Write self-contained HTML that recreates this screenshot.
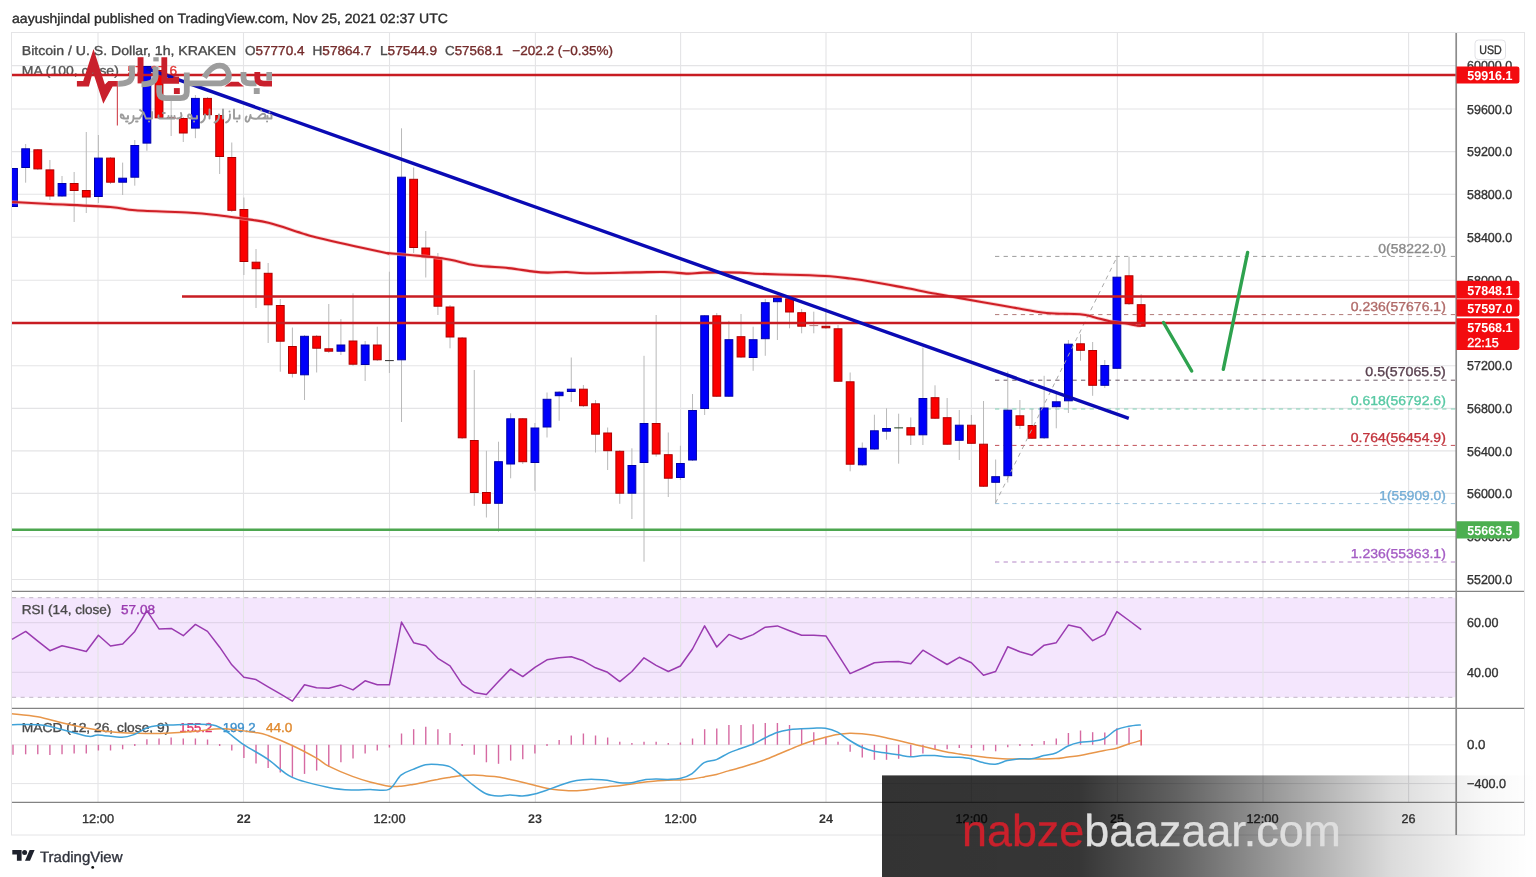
<!DOCTYPE html>
<html><head><meta charset="utf-8"><title>BTCUSD chart</title>
<style>
html,body{margin:0;padding:0;background:#fff;}
body{width:1536px;height:877px;overflow:hidden;font-family:"Liberation Sans",sans-serif;}
svg{display:block;position:absolute;left:0;top:0;filter:brightness(1);}
text{font-family:"Liberation Sans",sans-serif;paint-order:stroke;text-rendering:geometricPrecision;stroke-linejoin:round;}
</style></head><body>
<svg width="1536" height="877" viewBox="0 0 1536 877" shape-rendering="auto">
<defs>
<clipPath id="mainclip"><rect x="12" y="33" width="1444" height="558"/></clipPath>
<linearGradient id="ban" x1="0" y1="0" x2="1" y2="0">
<stop offset="0" stop-color="#000" stop-opacity="0.8"/>
<stop offset="0.30" stop-color="#000" stop-opacity="0.79"/>
<stop offset="0.45" stop-color="#000" stop-opacity="0.62"/>
<stop offset="0.60" stop-color="#000" stop-opacity="0.40"/>
<stop offset="0.78" stop-color="#000" stop-opacity="0.14"/>
<stop offset="0.92" stop-color="#000" stop-opacity="0.03"/>
<stop offset="1" stop-color="#000" stop-opacity="0"/>
</linearGradient>
</defs>
<rect x="0" y="0" width="1536" height="877" fill="#fff"/>

<text x="12" y="22.5" font-size="13.4" fill="#2b2b2b" textLength="436" lengthAdjust="spacingAndGlyphs" stroke="#2b2b2b" stroke-width="0.35">aayushjindal published on TradingView.com, Nov 25, 2021 02:37 UTC</text>
<rect x="11.5" y="32.5" width="1513" height="802.5" fill="#fff" stroke="#e4e4e6" stroke-width="1"/>
<rect x="12" y="597.7" width="1443.5" height="99.6" fill="#f4e6fd"/>
<line x1="12" y1="65.6" x2="1456" y2="65.6" stroke="#e4e4e6" stroke-width="1.1"/>
<line x1="12" y1="109.0" x2="1456" y2="109.0" stroke="#e4e4e6" stroke-width="1.1"/>
<line x1="12" y1="151.6" x2="1456" y2="151.6" stroke="#e4e4e6" stroke-width="1.1"/>
<line x1="12" y1="194.2" x2="1456" y2="194.2" stroke="#e4e4e6" stroke-width="1.1"/>
<line x1="12" y1="237.2" x2="1456" y2="237.2" stroke="#e4e4e6" stroke-width="1.1"/>
<line x1="12" y1="280.2" x2="1456" y2="280.2" stroke="#e4e4e6" stroke-width="1.1"/>
<line x1="12" y1="323.0" x2="1456" y2="323.0" stroke="#e4e4e6" stroke-width="1.1"/>
<line x1="12" y1="365.8" x2="1456" y2="365.8" stroke="#e4e4e6" stroke-width="1.1"/>
<line x1="12" y1="408.4" x2="1456" y2="408.4" stroke="#e4e4e6" stroke-width="1.1"/>
<line x1="12" y1="450.9" x2="1456" y2="450.9" stroke="#e4e4e6" stroke-width="1.1"/>
<line x1="12" y1="493.4" x2="1456" y2="493.4" stroke="#e4e4e6" stroke-width="1.1"/>
<line x1="12" y1="536.6" x2="1456" y2="536.6" stroke="#e4e4e6" stroke-width="1.1"/>
<line x1="12" y1="579.5" x2="1456" y2="579.5" stroke="#e4e4e6" stroke-width="1.1"/>
<line x1="12" y1="622.7" x2="1456" y2="622.7" stroke="#ddd0e6" stroke-width="1"/>
<line x1="12" y1="672.3" x2="1456" y2="672.3" stroke="#ddd0e6" stroke-width="1"/>
<line x1="12" y1="744.8" x2="1456" y2="744.8" stroke="#e4e4e6" stroke-width="1"/>
<line x1="12" y1="783.6" x2="1456" y2="783.6" stroke="#e4e4e6" stroke-width="1"/>
<line x1="98.0" y1="33" x2="98.0" y2="802" stroke="#e4e4e6" stroke-width="1.1"/>
<line x1="243.5" y1="33" x2="243.5" y2="802" stroke="#e4e4e6" stroke-width="1.1"/>
<line x1="389.5" y1="33" x2="389.5" y2="802" stroke="#e4e4e6" stroke-width="1.1"/>
<line x1="535.4" y1="33" x2="535.4" y2="802" stroke="#e4e4e6" stroke-width="1.1"/>
<line x1="680.6" y1="33" x2="680.6" y2="802" stroke="#e4e4e6" stroke-width="1.1"/>
<line x1="826.0" y1="33" x2="826.0" y2="802" stroke="#e4e4e6" stroke-width="1.1"/>
<line x1="971.4" y1="33" x2="971.4" y2="802" stroke="#e4e4e6" stroke-width="1.1"/>
<line x1="1117.4" y1="33" x2="1117.4" y2="802" stroke="#e4e4e6" stroke-width="1.1"/>
<line x1="1263.0" y1="33" x2="1263.0" y2="802" stroke="#e4e4e6" stroke-width="1.1"/>
<line x1="1408.6" y1="33" x2="1408.6" y2="802" stroke="#e4e4e6" stroke-width="1.1"/>
<line x1="12" y1="597.7" x2="1456" y2="597.7" stroke="#c0b6c6" stroke-width="1" stroke-dasharray="4.1 4.5"/>
<line x1="12" y1="697.3" x2="1456" y2="697.3" stroke="#c0b6c6" stroke-width="1" stroke-dasharray="4.1 4.5"/>
<text x="21.8" y="55" font-size="13" fill="#4a4a4a" textLength="214.5" lengthAdjust="spacingAndGlyphs" stroke="#4a4a4a" stroke-width="0.35">Bitcoin / U. S. Dollar, 1h, KRAKEN</text>
<text x="245" y="55" font-size="13" textLength="59.5" lengthAdjust="spacingAndGlyphs"><tspan fill="#4a4a4a" stroke="#4a4a4a" stroke-width="0.35">O</tspan><tspan fill="#742b2b" stroke="#742b2b" stroke-width="0.35">57770.4</tspan></text>
<text x="312.5" y="55" font-size="13" textLength="59" lengthAdjust="spacingAndGlyphs"><tspan fill="#4a4a4a" stroke="#4a4a4a" stroke-width="0.35">H</tspan><tspan fill="#742b2b" stroke="#742b2b" stroke-width="0.35">57864.7</tspan></text>
<text x="380" y="55" font-size="13" textLength="57" lengthAdjust="spacingAndGlyphs"><tspan fill="#4a4a4a" stroke="#4a4a4a" stroke-width="0.35">L</tspan><tspan fill="#742b2b" stroke="#742b2b" stroke-width="0.35">57544.9</tspan></text>
<text x="445" y="55" font-size="13" textLength="58" lengthAdjust="spacingAndGlyphs"><tspan fill="#4a4a4a" stroke="#4a4a4a" stroke-width="0.35">C</tspan><tspan fill="#742b2b" stroke="#742b2b" stroke-width="0.35">57568.1</tspan></text>
<text x="512.3" y="55" font-size="13" fill="#742b2b" textLength="100.7" lengthAdjust="spacingAndGlyphs" stroke="#742b2b" stroke-width="0.35">−202.2 (−0.35%)</text>
<text x="21.8" y="75.2" font-size="13" fill="#555" textLength="97" lengthAdjust="spacingAndGlyphs" stroke="#555" stroke-width="0.35">MA (100, close)</text>
<text x="127.5" y="75.2" font-size="13" fill="#e03030" textLength="49.5" lengthAdjust="spacingAndGlyphs" stroke="#e03030" stroke-width="0.35">57597.6</text>
<text x="21.8" y="614.4" font-size="13" fill="#4a4a4a" textLength="89.5" lengthAdjust="spacingAndGlyphs" stroke="#4a4a4a" stroke-width="0.35">RSI (14, close)</text>
<text x="121" y="614.4" font-size="13" fill="#9a3bb0" textLength="34" lengthAdjust="spacingAndGlyphs" stroke="#9a3bb0" stroke-width="0.35">57.08</text>
<text x="21.8" y="731.8" font-size="13" fill="#4a4a4a" textLength="147.5" lengthAdjust="spacingAndGlyphs" stroke="#4a4a4a" stroke-width="0.35">MACD (12, 26, close, 9)</text>
<text x="179.3" y="731.8" font-size="13" fill="#e0356c" textLength="33" lengthAdjust="spacingAndGlyphs" stroke="#e0356c" stroke-width="0.35">155.2</text>
<text x="222.7" y="731.8" font-size="13" fill="#3a8fcc" textLength="33" lengthAdjust="spacingAndGlyphs" stroke="#3a8fcc" stroke-width="0.35">199.2</text>
<text x="265.9" y="731.8" font-size="13" fill="#e08a30" textLength="26.5" lengthAdjust="spacingAndGlyphs" stroke="#e08a30" stroke-width="0.35">44.0</text>
<g clip-path="url(#mainclip)">
<line x1="995" y1="256.4" x2="1456" y2="256.4" stroke="#9c9c9c" stroke-width="1" stroke-dasharray="4.3 4.3"/>
<line x1="995" y1="314.6" x2="1456" y2="314.6" stroke="#b07a78" stroke-width="1" stroke-dasharray="4.3 4.3"/>
<line x1="995" y1="380.2" x2="1456" y2="380.2" stroke="#6b5864" stroke-width="1" stroke-dasharray="4.3 4.3"/>
<line x1="995" y1="409.0" x2="1456" y2="409.0" stroke="#7fd0b4" stroke-width="1" stroke-dasharray="4.3 4.3"/>
<line x1="995" y1="445.4" x2="1456" y2="445.4" stroke="#c25058" stroke-width="1" stroke-dasharray="4.3 4.3"/>
<line x1="995" y1="503.6" x2="1456" y2="503.6" stroke="#9cc3dc" stroke-width="1" stroke-dasharray="4.3 4.3"/>
<line x1="995" y1="562.0" x2="1456" y2="562.0" stroke="#b487c6" stroke-width="1" stroke-dasharray="4.3 4.3"/>
<line x1="13.53" y1="168" x2="13.53" y2="207" stroke="#b9b9b9" stroke-width="1"/>
<line x1="25.65" y1="144" x2="25.65" y2="182.7" stroke="#b9b9b9" stroke-width="1"/>
<line x1="37.78" y1="149" x2="37.78" y2="170" stroke="#b9b9b9" stroke-width="1"/>
<line x1="49.90" y1="160" x2="49.90" y2="200" stroke="#b9b9b9" stroke-width="1"/>
<line x1="62.03" y1="176" x2="62.03" y2="197" stroke="#b9b9b9" stroke-width="1"/>
<line x1="74.15" y1="172" x2="74.15" y2="222" stroke="#b9b9b9" stroke-width="1"/>
<line x1="86.28" y1="132" x2="86.28" y2="213" stroke="#b9b9b9" stroke-width="1"/>
<line x1="98.40" y1="135" x2="98.40" y2="203" stroke="#b9b9b9" stroke-width="1"/>
<line x1="110.53" y1="157" x2="110.53" y2="184" stroke="#b9b9b9" stroke-width="1"/>
<line x1="122.65" y1="162.6" x2="122.65" y2="195" stroke="#b9b9b9" stroke-width="1"/>
<line x1="134.78" y1="140" x2="134.78" y2="185.7" stroke="#b9b9b9" stroke-width="1"/>
<line x1="146.90" y1="66" x2="146.90" y2="150.8" stroke="#b9b9b9" stroke-width="1"/>
<line x1="159.03" y1="68" x2="159.03" y2="119" stroke="#b9b9b9" stroke-width="1"/>
<line x1="171.15" y1="100" x2="171.15" y2="136" stroke="#b9b9b9" stroke-width="1"/>
<line x1="183.28" y1="117" x2="183.28" y2="142" stroke="#b9b9b9" stroke-width="1"/>
<line x1="195.40" y1="95" x2="195.40" y2="138.2" stroke="#b9b9b9" stroke-width="1"/>
<line x1="207.53" y1="97" x2="207.53" y2="116" stroke="#b9b9b9" stroke-width="1"/>
<line x1="219.65" y1="115" x2="219.65" y2="174" stroke="#b9b9b9" stroke-width="1"/>
<line x1="231.78" y1="142.5" x2="231.78" y2="212" stroke="#b9b9b9" stroke-width="1"/>
<line x1="243.90" y1="197.5" x2="243.90" y2="275" stroke="#b9b9b9" stroke-width="1"/>
<line x1="256.02" y1="249" x2="256.02" y2="308" stroke="#b9b9b9" stroke-width="1"/>
<line x1="268.15" y1="263" x2="268.15" y2="343" stroke="#b9b9b9" stroke-width="1"/>
<line x1="280.27" y1="299" x2="280.27" y2="371.7" stroke="#b9b9b9" stroke-width="1"/>
<line x1="292.40" y1="327.5" x2="292.40" y2="377.5" stroke="#b9b9b9" stroke-width="1"/>
<line x1="304.52" y1="335" x2="304.52" y2="400" stroke="#b9b9b9" stroke-width="1"/>
<line x1="316.65" y1="335" x2="316.65" y2="372.5" stroke="#b9b9b9" stroke-width="1"/>
<line x1="328.77" y1="304" x2="328.77" y2="353" stroke="#b9b9b9" stroke-width="1"/>
<line x1="340.90" y1="319" x2="340.90" y2="355" stroke="#b9b9b9" stroke-width="1"/>
<line x1="353.02" y1="293.3" x2="353.02" y2="366" stroke="#b9b9b9" stroke-width="1"/>
<line x1="365.15" y1="341" x2="365.15" y2="381" stroke="#b9b9b9" stroke-width="1"/>
<line x1="377.27" y1="326.7" x2="377.27" y2="361" stroke="#b9b9b9" stroke-width="1"/>
<line x1="389.40" y1="271.7" x2="389.40" y2="373" stroke="#b9b9b9" stroke-width="1"/>
<line x1="401.52" y1="128.3" x2="401.52" y2="422" stroke="#b9b9b9" stroke-width="1"/>
<line x1="413.65" y1="167.5" x2="413.65" y2="253" stroke="#b9b9b9" stroke-width="1"/>
<line x1="425.77" y1="231" x2="425.77" y2="277.5" stroke="#b9b9b9" stroke-width="1"/>
<line x1="437.90" y1="253" x2="437.90" y2="315" stroke="#b9b9b9" stroke-width="1"/>
<line x1="450.02" y1="305" x2="450.02" y2="348.3" stroke="#b9b9b9" stroke-width="1"/>
<line x1="462.15" y1="337" x2="462.15" y2="439" stroke="#b9b9b9" stroke-width="1"/>
<line x1="474.27" y1="370" x2="474.27" y2="505.8" stroke="#b9b9b9" stroke-width="1"/>
<line x1="486.40" y1="450.8" x2="486.40" y2="517.5" stroke="#b9b9b9" stroke-width="1"/>
<line x1="498.52" y1="441.7" x2="498.52" y2="531.7" stroke="#b9b9b9" stroke-width="1"/>
<line x1="510.65" y1="413.3" x2="510.65" y2="478.3" stroke="#b9b9b9" stroke-width="1"/>
<line x1="522.77" y1="418" x2="522.77" y2="464" stroke="#b9b9b9" stroke-width="1"/>
<line x1="534.90" y1="423" x2="534.90" y2="490.8" stroke="#b9b9b9" stroke-width="1"/>
<line x1="547.02" y1="392.5" x2="547.02" y2="437.5" stroke="#b9b9b9" stroke-width="1"/>
<line x1="559.15" y1="391" x2="559.15" y2="420.8" stroke="#b9b9b9" stroke-width="1"/>
<line x1="571.27" y1="357.5" x2="571.27" y2="402" stroke="#b9b9b9" stroke-width="1"/>
<line x1="583.40" y1="385" x2="583.40" y2="407" stroke="#b9b9b9" stroke-width="1"/>
<line x1="595.52" y1="400" x2="595.52" y2="452.5" stroke="#b9b9b9" stroke-width="1"/>
<line x1="607.65" y1="427.5" x2="607.65" y2="470" stroke="#b9b9b9" stroke-width="1"/>
<line x1="619.77" y1="450" x2="619.77" y2="503.8" stroke="#b9b9b9" stroke-width="1"/>
<line x1="631.90" y1="448.3" x2="631.90" y2="519" stroke="#b9b9b9" stroke-width="1"/>
<line x1="644.02" y1="355.8" x2="644.02" y2="561.7" stroke="#b9b9b9" stroke-width="1"/>
<line x1="656.15" y1="315" x2="656.15" y2="456.7" stroke="#b9b9b9" stroke-width="1"/>
<line x1="668.27" y1="432.5" x2="668.27" y2="497" stroke="#b9b9b9" stroke-width="1"/>
<line x1="680.40" y1="445.8" x2="680.40" y2="480" stroke="#b9b9b9" stroke-width="1"/>
<line x1="692.52" y1="394" x2="692.52" y2="461" stroke="#b9b9b9" stroke-width="1"/>
<line x1="704.65" y1="315" x2="704.65" y2="415" stroke="#b9b9b9" stroke-width="1"/>
<line x1="716.77" y1="313" x2="716.77" y2="397" stroke="#b9b9b9" stroke-width="1"/>
<line x1="728.90" y1="320.8" x2="728.90" y2="397" stroke="#b9b9b9" stroke-width="1"/>
<line x1="741.02" y1="314" x2="741.02" y2="358" stroke="#b9b9b9" stroke-width="1"/>
<line x1="753.15" y1="326.7" x2="753.15" y2="370.8" stroke="#b9b9b9" stroke-width="1"/>
<line x1="765.27" y1="299" x2="765.27" y2="355.8" stroke="#b9b9b9" stroke-width="1"/>
<line x1="777.40" y1="297" x2="777.40" y2="340" stroke="#b9b9b9" stroke-width="1"/>
<line x1="789.52" y1="298" x2="789.52" y2="328.3" stroke="#b9b9b9" stroke-width="1"/>
<line x1="801.65" y1="309" x2="801.65" y2="333.3" stroke="#b9b9b9" stroke-width="1"/>
<line x1="813.77" y1="311.7" x2="813.77" y2="333.3" stroke="#b9b9b9" stroke-width="1"/>
<line x1="825.90" y1="308" x2="825.90" y2="329" stroke="#b9b9b9" stroke-width="1"/>
<line x1="838.02" y1="325" x2="838.02" y2="382" stroke="#b9b9b9" stroke-width="1"/>
<line x1="850.15" y1="372.5" x2="850.15" y2="471.3" stroke="#b9b9b9" stroke-width="1"/>
<line x1="862.27" y1="442.5" x2="862.27" y2="466" stroke="#b9b9b9" stroke-width="1"/>
<line x1="874.40" y1="414.7" x2="874.40" y2="450" stroke="#b9b9b9" stroke-width="1"/>
<line x1="886.52" y1="408.3" x2="886.52" y2="439.7" stroke="#b9b9b9" stroke-width="1"/>
<line x1="898.65" y1="413.7" x2="898.65" y2="463.7" stroke="#b9b9b9" stroke-width="1"/>
<line x1="910.77" y1="417.5" x2="910.77" y2="445" stroke="#b9b9b9" stroke-width="1"/>
<line x1="922.90" y1="347.5" x2="922.90" y2="445" stroke="#b9b9b9" stroke-width="1"/>
<line x1="935.02" y1="385.3" x2="935.02" y2="419" stroke="#b9b9b9" stroke-width="1"/>
<line x1="947.15" y1="398" x2="947.15" y2="445" stroke="#b9b9b9" stroke-width="1"/>
<line x1="959.27" y1="410" x2="959.27" y2="460" stroke="#b9b9b9" stroke-width="1"/>
<line x1="971.40" y1="415" x2="971.40" y2="444" stroke="#b9b9b9" stroke-width="1"/>
<line x1="983.52" y1="401" x2="983.52" y2="487" stroke="#b9b9b9" stroke-width="1"/>
<line x1="995.65" y1="459.5" x2="995.65" y2="503.3" stroke="#b9b9b9" stroke-width="1"/>
<line x1="1007.77" y1="371.5" x2="1007.77" y2="482.5" stroke="#b9b9b9" stroke-width="1"/>
<line x1="1019.90" y1="400" x2="1019.90" y2="429" stroke="#b9b9b9" stroke-width="1"/>
<line x1="1032.03" y1="409" x2="1032.03" y2="439" stroke="#b9b9b9" stroke-width="1"/>
<line x1="1044.15" y1="375.8" x2="1044.15" y2="439" stroke="#b9b9b9" stroke-width="1"/>
<line x1="1056.28" y1="394" x2="1056.28" y2="428.3" stroke="#b9b9b9" stroke-width="1"/>
<line x1="1068.40" y1="340" x2="1068.40" y2="413" stroke="#b9b9b9" stroke-width="1"/>
<line x1="1080.53" y1="334.2" x2="1080.53" y2="360.8" stroke="#b9b9b9" stroke-width="1"/>
<line x1="1092.65" y1="342" x2="1092.65" y2="395.8" stroke="#b9b9b9" stroke-width="1"/>
<line x1="1104.78" y1="360" x2="1104.78" y2="388" stroke="#b9b9b9" stroke-width="1"/>
<line x1="1116.90" y1="256.7" x2="1116.90" y2="369" stroke="#b9b9b9" stroke-width="1"/>
<line x1="1129.03" y1="256.7" x2="1129.03" y2="305" stroke="#b9b9b9" stroke-width="1"/>
<line x1="1141.15" y1="294.2" x2="1141.15" y2="327" stroke="#b9b9b9" stroke-width="1"/>
<rect x="9.63" y="168.5" width="7.8" height="38.0" fill="#0000fa" stroke="#0000a8" stroke-width="1"/>
<rect x="21.75" y="148.8" width="7.8" height="18.7" fill="#0000fa" stroke="#0000a8" stroke-width="1"/>
<rect x="33.88" y="149.8" width="7.8" height="19.1" fill="#fb0000" stroke="#ad0000" stroke-width="1"/>
<rect x="46.00" y="169.9" width="7.8" height="26.1" fill="#fb0000" stroke="#ad0000" stroke-width="1"/>
<rect x="58.13" y="183.5" width="7.8" height="12.5" fill="#0000fa" stroke="#0000a8" stroke-width="1"/>
<rect x="70.25" y="183.5" width="7.8" height="7.0" fill="#fb0000" stroke="#ad0000" stroke-width="1"/>
<rect x="82.38" y="190.5" width="7.8" height="6.5" fill="#fb0000" stroke="#ad0000" stroke-width="1"/>
<rect x="94.50" y="158.1" width="7.8" height="38.4" fill="#0000fa" stroke="#0000a8" stroke-width="1"/>
<rect x="106.62" y="158.1" width="7.8" height="24.1" fill="#fb0000" stroke="#ad0000" stroke-width="1"/>
<rect x="118.75" y="178.2" width="7.8" height="4.0" fill="#0000fa" stroke="#0000a8" stroke-width="1"/>
<rect x="130.88" y="145.5" width="7.8" height="31.7" fill="#0000fa" stroke="#0000a8" stroke-width="1"/>
<rect x="143.00" y="66.5" width="7.8" height="76.6" fill="#0000fa" stroke="#0000a8" stroke-width="1"/>
<rect x="155.12" y="70.5" width="7.8" height="47.3" fill="#fb0000" stroke="#ad0000" stroke-width="1"/>
<rect x="167.25" y="117.8" width="7.8" height="0.5" fill="#fb0000" stroke="#ad0000" stroke-width="1"/>
<rect x="179.38" y="118.5" width="7.8" height="14.5" fill="#fb0000" stroke="#ad0000" stroke-width="1"/>
<rect x="191.50" y="98.4" width="7.8" height="29.7" fill="#0000fa" stroke="#0000a8" stroke-width="1"/>
<rect x="203.62" y="98.4" width="7.8" height="16.3" fill="#fb0000" stroke="#ad0000" stroke-width="1"/>
<rect x="215.75" y="115.5" width="7.8" height="41.0" fill="#fb0000" stroke="#ad0000" stroke-width="1"/>
<rect x="227.88" y="157.5" width="7.8" height="52.8" fill="#fb0000" stroke="#ad0000" stroke-width="1"/>
<rect x="240.00" y="209.5" width="7.8" height="52.0" fill="#fb0000" stroke="#ad0000" stroke-width="1"/>
<rect x="252.12" y="262.2" width="7.8" height="6.5" fill="#fb0000" stroke="#ad0000" stroke-width="1"/>
<rect x="264.25" y="273.3" width="7.8" height="31.5" fill="#fb0000" stroke="#ad0000" stroke-width="1"/>
<rect x="276.38" y="305.5" width="7.8" height="35.7" fill="#fb0000" stroke="#ad0000" stroke-width="1"/>
<rect x="288.50" y="346.5" width="7.8" height="26.8" fill="#fb0000" stroke="#ad0000" stroke-width="1"/>
<rect x="300.62" y="336.3" width="7.8" height="38.5" fill="#0000fa" stroke="#0000a8" stroke-width="1"/>
<rect x="312.75" y="336.3" width="7.8" height="11.9" fill="#fb0000" stroke="#ad0000" stroke-width="1"/>
<rect x="324.88" y="348.8" width="7.8" height="2.4" fill="#fb0000" stroke="#ad0000" stroke-width="1"/>
<rect x="337.00" y="345.0" width="7.8" height="6.2" fill="#0000fa" stroke="#0000a8" stroke-width="1"/>
<rect x="349.12" y="341.0" width="7.8" height="23.2" fill="#fb0000" stroke="#ad0000" stroke-width="1"/>
<rect x="361.25" y="345.0" width="7.8" height="19.5" fill="#0000fa" stroke="#0000a8" stroke-width="1"/>
<rect x="373.38" y="345.0" width="7.8" height="14.8" fill="#fb0000" stroke="#ad0000" stroke-width="1"/>
<rect x="385.00" y="360" width="8.8" height="1.1" fill="#444"/>
<rect x="397.62" y="177.2" width="7.8" height="182.6" fill="#0000fa" stroke="#0000a8" stroke-width="1"/>
<rect x="409.75" y="179.3" width="7.8" height="68.2" fill="#fb0000" stroke="#ad0000" stroke-width="1"/>
<rect x="421.88" y="248.0" width="7.8" height="9.0" fill="#fb0000" stroke="#ad0000" stroke-width="1"/>
<rect x="434.00" y="258.0" width="7.8" height="48.2" fill="#fb0000" stroke="#ad0000" stroke-width="1"/>
<rect x="446.12" y="307.0" width="7.8" height="30.0" fill="#fb0000" stroke="#ad0000" stroke-width="1"/>
<rect x="458.25" y="338.0" width="7.8" height="99.8" fill="#fb0000" stroke="#ad0000" stroke-width="1"/>
<rect x="470.38" y="440.5" width="7.8" height="52.0" fill="#fb0000" stroke="#ad0000" stroke-width="1"/>
<rect x="482.50" y="492.5" width="7.8" height="10.8" fill="#fb0000" stroke="#ad0000" stroke-width="1"/>
<rect x="494.62" y="461.7" width="7.8" height="41.6" fill="#0000fa" stroke="#0000a8" stroke-width="1"/>
<rect x="506.75" y="418.8" width="7.8" height="45.2" fill="#0000fa" stroke="#0000a8" stroke-width="1"/>
<rect x="518.88" y="418.8" width="7.8" height="42.9" fill="#fb0000" stroke="#ad0000" stroke-width="1"/>
<rect x="531.00" y="428.0" width="7.8" height="34.5" fill="#0000fa" stroke="#0000a8" stroke-width="1"/>
<rect x="543.12" y="399.3" width="7.8" height="27.7" fill="#0000fa" stroke="#0000a8" stroke-width="1"/>
<rect x="555.25" y="392.2" width="7.8" height="3.5" fill="#0000fa" stroke="#0000a8" stroke-width="1"/>
<rect x="567.38" y="389.2" width="7.8" height="2.3" fill="#0000fa" stroke="#0000a8" stroke-width="1"/>
<rect x="579.50" y="389.2" width="7.8" height="16.5" fill="#fb0000" stroke="#ad0000" stroke-width="1"/>
<rect x="591.62" y="403.8" width="7.8" height="30.4" fill="#fb0000" stroke="#ad0000" stroke-width="1"/>
<rect x="603.75" y="433.0" width="7.8" height="17.7" fill="#fb0000" stroke="#ad0000" stroke-width="1"/>
<rect x="615.88" y="451.3" width="7.8" height="41.9" fill="#fb0000" stroke="#ad0000" stroke-width="1"/>
<rect x="628.00" y="465.5" width="7.8" height="27.7" fill="#0000fa" stroke="#0000a8" stroke-width="1"/>
<rect x="640.12" y="423.5" width="7.8" height="39.0" fill="#0000fa" stroke="#0000a8" stroke-width="1"/>
<rect x="652.25" y="423.5" width="7.8" height="30.5" fill="#fb0000" stroke="#ad0000" stroke-width="1"/>
<rect x="664.38" y="454.7" width="7.8" height="23.5" fill="#fb0000" stroke="#ad0000" stroke-width="1"/>
<rect x="676.50" y="463.5" width="7.8" height="14.0" fill="#0000fa" stroke="#0000a8" stroke-width="1"/>
<rect x="688.62" y="410.5" width="7.8" height="49.5" fill="#0000fa" stroke="#0000a8" stroke-width="1"/>
<rect x="700.75" y="315.8" width="7.8" height="92.7" fill="#0000fa" stroke="#0000a8" stroke-width="1"/>
<rect x="712.88" y="315.8" width="7.8" height="80.4" fill="#fb0000" stroke="#ad0000" stroke-width="1"/>
<rect x="725.00" y="339.7" width="7.8" height="56.5" fill="#0000fa" stroke="#0000a8" stroke-width="1"/>
<rect x="737.12" y="336.7" width="7.8" height="20.3" fill="#fb0000" stroke="#ad0000" stroke-width="1"/>
<rect x="749.25" y="339.7" width="7.8" height="17.8" fill="#0000fa" stroke="#0000a8" stroke-width="1"/>
<rect x="761.38" y="302.7" width="7.8" height="36.0" fill="#0000fa" stroke="#0000a8" stroke-width="1"/>
<rect x="773.50" y="298.0" width="7.8" height="3.7" fill="#0000fa" stroke="#0000a8" stroke-width="1"/>
<rect x="785.62" y="298.8" width="7.8" height="13.2" fill="#fb0000" stroke="#ad0000" stroke-width="1"/>
<rect x="797.75" y="312.7" width="7.8" height="13.5" fill="#fb0000" stroke="#ad0000" stroke-width="1"/>
<rect x="809.38" y="325" width="8.8" height="1.1" fill="#b98a8a"/>
<rect x="822.00" y="326.3" width="7.8" height="1.5" fill="#fb0000" stroke="#ad0000" stroke-width="1"/>
<rect x="834.12" y="328.8" width="7.8" height="52.4" fill="#fb0000" stroke="#ad0000" stroke-width="1"/>
<rect x="846.25" y="381.8" width="7.8" height="82.4" fill="#fb0000" stroke="#ad0000" stroke-width="1"/>
<rect x="858.38" y="448.3" width="7.8" height="16.5" fill="#0000fa" stroke="#0000a8" stroke-width="1"/>
<rect x="870.50" y="430.8" width="7.8" height="18.2" fill="#0000fa" stroke="#0000a8" stroke-width="1"/>
<rect x="882.62" y="428.5" width="7.8" height="2.7" fill="#0000fa" stroke="#0000a8" stroke-width="1"/>
<rect x="894.25" y="427.3" width="8.8" height="1.1" fill="#2f4a2f"/>
<rect x="906.88" y="427.7" width="7.8" height="7.3" fill="#fb0000" stroke="#ad0000" stroke-width="1"/>
<rect x="919.00" y="398.5" width="7.8" height="36.3" fill="#0000fa" stroke="#0000a8" stroke-width="1"/>
<rect x="931.12" y="397.7" width="7.8" height="20.5" fill="#fb0000" stroke="#ad0000" stroke-width="1"/>
<rect x="943.25" y="417.7" width="7.8" height="26.5" fill="#fb0000" stroke="#ad0000" stroke-width="1"/>
<rect x="955.38" y="425.2" width="7.8" height="15.1" fill="#0000fa" stroke="#0000a8" stroke-width="1"/>
<rect x="967.50" y="425.2" width="7.8" height="18.1" fill="#fb0000" stroke="#ad0000" stroke-width="1"/>
<rect x="979.62" y="444.2" width="7.8" height="42.0" fill="#fb0000" stroke="#ad0000" stroke-width="1"/>
<rect x="991.75" y="476.7" width="7.8" height="5.6" fill="#0000fa" stroke="#0000a8" stroke-width="1"/>
<rect x="1003.88" y="410.2" width="7.8" height="65.5" fill="#0000fa" stroke="#0000a8" stroke-width="1"/>
<rect x="1016.00" y="415.8" width="7.8" height="9.5" fill="#fb0000" stroke="#ad0000" stroke-width="1"/>
<rect x="1028.12" y="425.5" width="7.8" height="12.7" fill="#fb0000" stroke="#ad0000" stroke-width="1"/>
<rect x="1040.25" y="408.0" width="7.8" height="29.8" fill="#0000fa" stroke="#0000a8" stroke-width="1"/>
<rect x="1052.38" y="401.8" width="7.8" height="4.9" fill="#0000fa" stroke="#0000a8" stroke-width="1"/>
<rect x="1064.50" y="344.2" width="7.8" height="56.6" fill="#0000fa" stroke="#0000a8" stroke-width="1"/>
<rect x="1076.62" y="343.8" width="7.8" height="6.5" fill="#fb0000" stroke="#ad0000" stroke-width="1"/>
<rect x="1088.75" y="350.5" width="7.8" height="34.8" fill="#fb0000" stroke="#ad0000" stroke-width="1"/>
<rect x="1100.88" y="365.5" width="7.8" height="19.8" fill="#0000fa" stroke="#0000a8" stroke-width="1"/>
<rect x="1113.00" y="277.2" width="7.8" height="91.1" fill="#0000fa" stroke="#0000a8" stroke-width="1"/>
<rect x="1125.12" y="275.8" width="7.8" height="27.9" fill="#fb0000" stroke="#ad0000" stroke-width="1"/>
<rect x="1137.25" y="304.7" width="7.8" height="21.5" fill="#fb0000" stroke="#ad0000" stroke-width="1"/>
<line x1="995.5" y1="503" x2="1117" y2="257" stroke="#a9a9a9" stroke-width="1" stroke-dasharray="4.3 4.3"/>
<path d="M12.0 202.2 C12.9 202.2 11.2 202.0 17.5 202.3 C23.8 202.6 34.5 203.2 50.0 204.0 C65.5 204.8 96.2 205.9 110.4 207.0 C124.6 208.1 122.0 209.3 135.4 210.3 C148.8 211.3 176.8 212.0 190.6 212.8 C204.4 213.6 209.8 214.4 218.2 215.3 C226.6 216.2 232.4 217.1 240.8 218.3 C249.2 219.6 258.4 220.4 268.4 222.8 C278.4 225.2 292.9 230.5 301.0 232.9 C309.1 235.3 302.9 234.2 316.7 237.5 C330.5 240.8 371.8 249.9 384.0 252.5 C396.2 255.1 380.3 252.3 390.0 253.3 C399.7 254.3 427.8 256.3 442.0 258.3 C456.2 260.3 463.9 263.6 475.0 265.2 C486.1 266.8 498.6 267.0 508.4 268.1 C518.2 269.2 527.3 270.9 533.8 271.6 C540.3 272.4 541.9 272.5 547.4 272.6 C552.9 272.7 560.5 271.9 567.0 272.0 C573.5 272.1 575.1 273.1 586.5 273.2 C597.9 273.3 622.3 272.6 635.3 272.4 C648.3 272.2 655.8 271.8 664.6 272.0 C673.4 272.2 681.5 273.5 688.0 273.6 C694.5 273.7 695.0 272.8 703.7 272.6 C712.4 272.4 731.5 272.4 740.0 272.6 C748.5 272.8 745.0 273.3 755.0 273.7 C765.0 274.1 787.5 274.6 800.0 275.0 C812.5 275.4 821.7 275.7 830.0 276.3 C838.3 276.9 843.0 277.6 850.0 278.5 C857.0 279.4 862.5 280.1 871.7 281.7 C880.9 283.2 894.3 285.8 905.0 287.8 C915.7 289.8 923.5 291.5 936.0 293.8 C948.5 296.1 967.2 299.4 980.0 301.7 C992.8 304.0 1001.9 305.6 1013.0 307.5 C1024.1 309.4 1035.5 311.9 1046.7 313.0 C1057.9 314.1 1072.0 313.4 1080.0 314.2 C1088.0 314.9 1090.0 316.3 1095.0 317.5 C1100.0 318.7 1105.0 320.3 1110.0 321.3 C1115.0 322.3 1120.5 322.6 1125.0 323.3 C1129.5 324.0 1134.0 325.1 1136.7 325.5 C1139.4 325.9 1140.3 325.9 1141.0 326.0" fill="none" stroke="#f7a6a6" stroke-width="3.8" stroke-linejoin="round" opacity="0.55"/>
<path d="M12.0 202.2 C12.9 202.2 11.2 202.0 17.5 202.3 C23.8 202.6 34.5 203.2 50.0 204.0 C65.5 204.8 96.2 205.9 110.4 207.0 C124.6 208.1 122.0 209.3 135.4 210.3 C148.8 211.3 176.8 212.0 190.6 212.8 C204.4 213.6 209.8 214.4 218.2 215.3 C226.6 216.2 232.4 217.1 240.8 218.3 C249.2 219.6 258.4 220.4 268.4 222.8 C278.4 225.2 292.9 230.5 301.0 232.9 C309.1 235.3 302.9 234.2 316.7 237.5 C330.5 240.8 371.8 249.9 384.0 252.5 C396.2 255.1 380.3 252.3 390.0 253.3 C399.7 254.3 427.8 256.3 442.0 258.3 C456.2 260.3 463.9 263.6 475.0 265.2 C486.1 266.8 498.6 267.0 508.4 268.1 C518.2 269.2 527.3 270.9 533.8 271.6 C540.3 272.4 541.9 272.5 547.4 272.6 C552.9 272.7 560.5 271.9 567.0 272.0 C573.5 272.1 575.1 273.1 586.5 273.2 C597.9 273.3 622.3 272.6 635.3 272.4 C648.3 272.2 655.8 271.8 664.6 272.0 C673.4 272.2 681.5 273.5 688.0 273.6 C694.5 273.7 695.0 272.8 703.7 272.6 C712.4 272.4 731.5 272.4 740.0 272.6 C748.5 272.8 745.0 273.3 755.0 273.7 C765.0 274.1 787.5 274.6 800.0 275.0 C812.5 275.4 821.7 275.7 830.0 276.3 C838.3 276.9 843.0 277.6 850.0 278.5 C857.0 279.4 862.5 280.1 871.7 281.7 C880.9 283.2 894.3 285.8 905.0 287.8 C915.7 289.8 923.5 291.5 936.0 293.8 C948.5 296.1 967.2 299.4 980.0 301.7 C992.8 304.0 1001.9 305.6 1013.0 307.5 C1024.1 309.4 1035.5 311.9 1046.7 313.0 C1057.9 314.1 1072.0 313.4 1080.0 314.2 C1088.0 314.9 1090.0 316.3 1095.0 317.5 C1100.0 318.7 1105.0 320.3 1110.0 321.3 C1115.0 322.3 1120.5 322.6 1125.0 323.3 C1129.5 324.0 1134.0 325.1 1136.7 325.5 C1139.4 325.9 1140.3 325.9 1141.0 326.0" fill="none" stroke="#cf1f26" stroke-width="2.1" stroke-linejoin="round"/>
<line x1="12" y1="74.9" x2="1456" y2="74.9" stroke="#c81c22" stroke-width="2.5"/>
<line x1="182" y1="296.5" x2="1456" y2="296.5" stroke="#c81c22" stroke-width="2.5"/>
<line x1="12" y1="323.1" x2="1456" y2="323.1" stroke="#c81c22" stroke-width="2.5"/>
<line x1="12" y1="529.8" x2="1456" y2="529.8" stroke="#4ca64f" stroke-width="2.4"/>
<line x1="146.5" y1="68.4" x2="1128.8" y2="418.4" stroke="#0a0ab4" stroke-width="3.4" stroke-linecap="butt"/>
<line x1="1163.5" y1="322.5" x2="1191.7" y2="371" stroke="#2ea24e" stroke-width="3.4" stroke-linecap="round"/>
<line x1="1223.3" y1="369.3" x2="1247.6" y2="252.5" stroke="#2ea24e" stroke-width="3.4" stroke-linecap="round"/>
</g>
<polyline points="12.0,639.4 25.7,631.4 37.8,641.2 49.9,650.7 62.0,645.7 74.2,648.6 86.3,651.5 98.4,635.2 110.5,646.0 122.7,644.0 134.8,631.4 146.9,610.6 159.0,628.9 171.2,628.4 183.3,635.7 195.4,624.4 207.5,631.4 219.7,647.2 231.8,664.8 243.9,677.3 256.0,679.6 268.1,686.8 280.3,693.9 292.4,701.1 304.5,684.8 316.6,687.8 328.8,688.3 340.9,685.1 353.0,689.9 365.1,680.8 377.3,684.8 389.4,684.8 401.5,622.1 413.6,642.7 425.8,645.7 437.9,658.3 450.0,665.8 462.1,684.1 474.3,692.4 486.4,694.6 498.5,681.6 510.6,669.0 522.8,676.6 534.9,667.3 547.0,659.8 559.1,657.8 571.3,656.7 583.4,660.8 595.5,667.8 607.6,672.3 619.8,681.6 631.9,671.5 644.0,657.8 656.1,665.3 668.3,671.5 680.4,666.0 692.5,649.0 704.6,625.9 716.8,647.0 728.9,634.4 741.0,639.3 753.1,634.6 765.3,627.2 777.4,625.9 789.5,630.7 801.6,635.2 813.8,635.2 825.9,635.9 838.0,654.7 850.1,673.6 862.3,668.3 874.4,662.8 886.5,661.8 898.6,661.5 910.8,663.8 922.9,650.2 935.0,657.3 947.1,664.5 959.3,657.3 971.4,662.8 983.5,675.3 995.6,671.5 1007.8,646.7 1019.9,651.7 1032.0,655.2 1044.2,645.2 1056.3,642.7 1068.4,625.1 1080.5,627.7 1092.7,640.7 1104.8,634.3 1116.9,611.6 1129.0,620.5 1141.2,629.7" fill="none" stroke="#9a3bb0" stroke-width="1.5" stroke-linejoin="round"/>
<line x1="13.00" y1="744.8" x2="13.00" y2="754.8" stroke="#d66aa2" stroke-width="1.4"/>
<line x1="25.65" y1="744.8" x2="25.65" y2="754.3" stroke="#d66aa2" stroke-width="1.4"/>
<line x1="37.78" y1="744.8" x2="37.78" y2="754.3" stroke="#d66aa2" stroke-width="1.4"/>
<line x1="49.90" y1="744.8" x2="49.90" y2="755.0" stroke="#d66aa2" stroke-width="1.4"/>
<line x1="62.03" y1="744.8" x2="62.03" y2="754.3" stroke="#d66aa2" stroke-width="1.4"/>
<line x1="74.15" y1="744.8" x2="74.15" y2="753.6" stroke="#d66aa2" stroke-width="1.4"/>
<line x1="86.28" y1="744.8" x2="86.28" y2="753.6" stroke="#d66aa2" stroke-width="1.4"/>
<line x1="98.40" y1="744.8" x2="98.40" y2="750.5" stroke="#d66aa2" stroke-width="1.4"/>
<line x1="110.53" y1="744.8" x2="110.53" y2="750.5" stroke="#d66aa2" stroke-width="1.4"/>
<line x1="122.65" y1="744.8" x2="122.65" y2="749.3" stroke="#d66aa2" stroke-width="1.4"/>
<line x1="134.78" y1="744.0" x2="134.78" y2="746.0" stroke="#d66aa2" stroke-width="1.4"/>
<line x1="146.90" y1="739.3" x2="146.90" y2="744.8" stroke="#d66aa2" stroke-width="1.4"/>
<line x1="159.03" y1="738.5" x2="159.03" y2="744.8" stroke="#d66aa2" stroke-width="1.4"/>
<line x1="171.15" y1="737.5" x2="171.15" y2="744.8" stroke="#d66aa2" stroke-width="1.4"/>
<line x1="183.28" y1="738.5" x2="183.28" y2="744.8" stroke="#d66aa2" stroke-width="1.4"/>
<line x1="195.40" y1="738.5" x2="195.40" y2="744.8" stroke="#d66aa2" stroke-width="1.4"/>
<line x1="207.53" y1="739.5" x2="207.53" y2="744.8" stroke="#d66aa2" stroke-width="1.4"/>
<line x1="219.65" y1="744.0" x2="219.65" y2="746.0" stroke="#d66aa2" stroke-width="1.4"/>
<line x1="231.78" y1="744.8" x2="231.78" y2="750.5" stroke="#d66aa2" stroke-width="1.4"/>
<line x1="243.90" y1="744.8" x2="243.90" y2="758.0" stroke="#d66aa2" stroke-width="1.4"/>
<line x1="256.02" y1="744.8" x2="256.02" y2="763.6" stroke="#d66aa2" stroke-width="1.4"/>
<line x1="268.15" y1="744.8" x2="268.15" y2="768.1" stroke="#d66aa2" stroke-width="1.4"/>
<line x1="280.27" y1="744.8" x2="280.27" y2="772.6" stroke="#d66aa2" stroke-width="1.4"/>
<line x1="292.40" y1="744.8" x2="292.40" y2="776.9" stroke="#d66aa2" stroke-width="1.4"/>
<line x1="304.52" y1="744.8" x2="304.52" y2="773.9" stroke="#d66aa2" stroke-width="1.4"/>
<line x1="316.65" y1="744.8" x2="316.65" y2="770.6" stroke="#d66aa2" stroke-width="1.4"/>
<line x1="328.77" y1="744.8" x2="328.77" y2="766.9" stroke="#d66aa2" stroke-width="1.4"/>
<line x1="340.90" y1="744.8" x2="340.90" y2="762.3" stroke="#d66aa2" stroke-width="1.4"/>
<line x1="353.02" y1="744.8" x2="353.02" y2="758.6" stroke="#d66aa2" stroke-width="1.4"/>
<line x1="365.15" y1="744.8" x2="365.15" y2="753.6" stroke="#d66aa2" stroke-width="1.4"/>
<line x1="377.27" y1="744.8" x2="377.27" y2="750.5" stroke="#d66aa2" stroke-width="1.4"/>
<line x1="389.40" y1="744.8" x2="389.40" y2="747.5" stroke="#d66aa2" stroke-width="1.4"/>
<line x1="401.52" y1="733.5" x2="401.52" y2="744.8" stroke="#d66aa2" stroke-width="1.4"/>
<line x1="413.65" y1="729.2" x2="413.65" y2="744.8" stroke="#d66aa2" stroke-width="1.4"/>
<line x1="425.77" y1="726.7" x2="425.77" y2="744.8" stroke="#d66aa2" stroke-width="1.4"/>
<line x1="437.90" y1="729.2" x2="437.90" y2="744.8" stroke="#d66aa2" stroke-width="1.4"/>
<line x1="450.02" y1="733.0" x2="450.02" y2="744.8" stroke="#d66aa2" stroke-width="1.4"/>
<line x1="462.15" y1="744.0" x2="462.15" y2="746.0" stroke="#d66aa2" stroke-width="1.4"/>
<line x1="474.27" y1="744.8" x2="474.27" y2="754.8" stroke="#d66aa2" stroke-width="1.4"/>
<line x1="486.40" y1="744.8" x2="486.40" y2="762.3" stroke="#d66aa2" stroke-width="1.4"/>
<line x1="498.52" y1="744.8" x2="498.52" y2="763.8" stroke="#d66aa2" stroke-width="1.4"/>
<line x1="510.65" y1="744.8" x2="510.65" y2="760.6" stroke="#d66aa2" stroke-width="1.4"/>
<line x1="522.77" y1="744.8" x2="522.77" y2="759.3" stroke="#d66aa2" stroke-width="1.4"/>
<line x1="534.90" y1="744.8" x2="534.90" y2="753.6" stroke="#d66aa2" stroke-width="1.4"/>
<line x1="547.02" y1="744.0" x2="547.02" y2="746.0" stroke="#d66aa2" stroke-width="1.4"/>
<line x1="559.15" y1="740.0" x2="559.15" y2="744.8" stroke="#d66aa2" stroke-width="1.4"/>
<line x1="571.27" y1="735.5" x2="571.27" y2="744.8" stroke="#d66aa2" stroke-width="1.4"/>
<line x1="583.40" y1="733.5" x2="583.40" y2="744.8" stroke="#d66aa2" stroke-width="1.4"/>
<line x1="595.52" y1="735.5" x2="595.52" y2="744.8" stroke="#d66aa2" stroke-width="1.4"/>
<line x1="607.65" y1="737.5" x2="607.65" y2="744.8" stroke="#d66aa2" stroke-width="1.4"/>
<line x1="619.77" y1="741.8" x2="619.77" y2="744.8" stroke="#d66aa2" stroke-width="1.4"/>
<line x1="631.90" y1="743.0" x2="631.90" y2="744.8" stroke="#d66aa2" stroke-width="1.4"/>
<line x1="644.02" y1="741.8" x2="644.02" y2="744.8" stroke="#d66aa2" stroke-width="1.4"/>
<line x1="656.15" y1="741.8" x2="656.15" y2="744.8" stroke="#d66aa2" stroke-width="1.4"/>
<line x1="668.27" y1="743.0" x2="668.27" y2="744.8" stroke="#d66aa2" stroke-width="1.4"/>
<line x1="680.40" y1="742.5" x2="680.40" y2="744.8" stroke="#d66aa2" stroke-width="1.4"/>
<line x1="692.52" y1="738.5" x2="692.52" y2="744.8" stroke="#d66aa2" stroke-width="1.4"/>
<line x1="704.65" y1="729.2" x2="704.65" y2="744.8" stroke="#d66aa2" stroke-width="1.4"/>
<line x1="716.77" y1="728.5" x2="716.77" y2="744.8" stroke="#d66aa2" stroke-width="1.4"/>
<line x1="728.90" y1="725.0" x2="728.90" y2="744.8" stroke="#d66aa2" stroke-width="1.4"/>
<line x1="741.02" y1="725.0" x2="741.02" y2="744.8" stroke="#d66aa2" stroke-width="1.4"/>
<line x1="753.15" y1="724.2" x2="753.15" y2="744.8" stroke="#d66aa2" stroke-width="1.4"/>
<line x1="765.27" y1="723.0" x2="765.27" y2="744.8" stroke="#d66aa2" stroke-width="1.4"/>
<line x1="777.40" y1="723.0" x2="777.40" y2="744.8" stroke="#d66aa2" stroke-width="1.4"/>
<line x1="789.52" y1="725.0" x2="789.52" y2="744.8" stroke="#d66aa2" stroke-width="1.4"/>
<line x1="801.65" y1="728.0" x2="801.65" y2="744.8" stroke="#d66aa2" stroke-width="1.4"/>
<line x1="813.77" y1="732.2" x2="813.77" y2="744.8" stroke="#d66aa2" stroke-width="1.4"/>
<line x1="825.90" y1="736.8" x2="825.90" y2="744.8" stroke="#d66aa2" stroke-width="1.4"/>
<line x1="838.02" y1="741.8" x2="838.02" y2="744.8" stroke="#d66aa2" stroke-width="1.4"/>
<line x1="850.15" y1="744.8" x2="850.15" y2="751.8" stroke="#d66aa2" stroke-width="1.4"/>
<line x1="862.27" y1="744.8" x2="862.27" y2="757.6" stroke="#d66aa2" stroke-width="1.4"/>
<line x1="874.40" y1="744.8" x2="874.40" y2="759.8" stroke="#d66aa2" stroke-width="1.4"/>
<line x1="886.52" y1="744.8" x2="886.52" y2="759.8" stroke="#d66aa2" stroke-width="1.4"/>
<line x1="898.65" y1="744.8" x2="898.65" y2="758.8" stroke="#d66aa2" stroke-width="1.4"/>
<line x1="910.77" y1="744.8" x2="910.77" y2="756.8" stroke="#d66aa2" stroke-width="1.4"/>
<line x1="922.90" y1="744.8" x2="922.90" y2="753.6" stroke="#d66aa2" stroke-width="1.4"/>
<line x1="935.02" y1="744.8" x2="935.02" y2="750.0" stroke="#d66aa2" stroke-width="1.4"/>
<line x1="947.15" y1="744.8" x2="947.15" y2="749.3" stroke="#d66aa2" stroke-width="1.4"/>
<line x1="959.27" y1="744.8" x2="959.27" y2="748.0" stroke="#d66aa2" stroke-width="1.4"/>
<line x1="971.40" y1="744.8" x2="971.40" y2="748.0" stroke="#d66aa2" stroke-width="1.4"/>
<line x1="983.52" y1="744.8" x2="983.52" y2="750.5" stroke="#d66aa2" stroke-width="1.4"/>
<line x1="995.65" y1="744.8" x2="995.65" y2="751.3" stroke="#d66aa2" stroke-width="1.4"/>
<line x1="1007.77" y1="744.8" x2="1007.77" y2="747.3" stroke="#d66aa2" stroke-width="1.4"/>
<line x1="1019.90" y1="744.0" x2="1019.90" y2="746.0" stroke="#d66aa2" stroke-width="1.4"/>
<line x1="1032.03" y1="744.0" x2="1032.03" y2="746.0" stroke="#d66aa2" stroke-width="1.4"/>
<line x1="1044.15" y1="741.0" x2="1044.15" y2="744.8" stroke="#d66aa2" stroke-width="1.4"/>
<line x1="1056.28" y1="738.5" x2="1056.28" y2="744.8" stroke="#d66aa2" stroke-width="1.4"/>
<line x1="1068.40" y1="733.0" x2="1068.40" y2="744.8" stroke="#d66aa2" stroke-width="1.4"/>
<line x1="1080.53" y1="730.5" x2="1080.53" y2="744.8" stroke="#d66aa2" stroke-width="1.4"/>
<line x1="1092.65" y1="732.2" x2="1092.65" y2="744.8" stroke="#d66aa2" stroke-width="1.4"/>
<line x1="1104.78" y1="732.4" x2="1104.78" y2="744.8" stroke="#d66aa2" stroke-width="1.4"/>
<line x1="1116.90" y1="728.3" x2="1116.90" y2="744.8" stroke="#d66aa2" stroke-width="1.4"/>
<line x1="1129.03" y1="727.7" x2="1129.03" y2="744.8" stroke="#d66aa2" stroke-width="1.4"/>
<line x1="1141.15" y1="729.7" x2="1141.15" y2="745.5" stroke="#e0445a" stroke-width="1.4"/>
<path d="M12.0 713.7 C16.3 714.2 29.1 715.2 37.6 716.7 C46.1 718.2 54.6 721.1 62.7 723.0 C70.8 724.9 78.3 726.5 86.3 728.0 C94.2 729.5 100.3 730.8 110.4 731.7 C120.5 732.6 136.7 733.3 146.7 733.5 C156.7 733.7 162.3 733.4 170.5 733.0 C178.7 732.6 186.8 731.9 195.6 731.2 C204.3 730.5 213.1 728.5 223.0 728.7 C232.9 728.9 247.8 731.4 255.3 732.5 C262.8 733.6 261.9 733.3 268.0 735.5 C274.1 737.7 284.1 741.7 292.2 745.5 C300.3 749.3 310.4 754.7 316.5 758.1 C322.6 761.5 322.6 763.1 328.6 766.1 C334.6 769.1 345.5 773.8 352.4 776.4 C359.3 779.0 363.9 780.3 370.0 781.9 C376.1 783.5 383.8 785.5 389.0 786.2 C394.2 786.9 397.0 786.5 401.0 786.2 C405.0 785.9 408.9 785.1 413.0 784.4 C417.1 783.7 421.3 782.7 425.4 781.9 C429.5 781.1 433.5 780.1 437.5 779.4 C441.5 778.6 445.6 778.0 449.6 777.4 C453.6 776.8 457.7 776.0 461.8 775.6 C465.8 775.2 469.9 775.1 473.9 775.1 C477.9 775.1 482.0 775.6 486.0 775.9 C490.0 776.2 494.1 776.3 498.1 776.9 C502.1 777.5 506.2 778.5 510.2 779.4 C514.3 780.3 518.4 781.2 522.4 782.2 C526.4 783.2 530.5 784.2 534.5 785.2 C538.5 786.2 542.6 787.4 546.6 788.2 C550.6 789.0 554.7 789.5 558.8 789.9 C562.8 790.3 566.9 790.7 570.9 790.7 C574.9 790.8 579.0 790.5 583.0 790.2 C587.0 789.9 591.1 789.2 595.1 788.7 C599.1 788.2 603.2 787.4 607.2 786.9 C611.3 786.4 615.4 786.2 619.4 785.7 C623.4 785.2 627.5 784.5 631.5 783.9 C635.5 783.3 639.6 782.7 643.6 782.2 C647.6 781.7 651.7 781.2 655.8 780.9 C659.8 780.6 663.9 780.4 667.9 780.2 C671.9 780.0 676.0 780.1 680.0 779.9 C684.0 779.7 688.1 779.4 692.1 778.9 C696.1 778.4 700.2 777.6 704.2 776.9 C708.3 776.1 712.4 775.4 716.4 774.4 C720.4 773.4 724.5 772.0 728.5 770.9 C732.5 769.8 736.6 768.7 740.6 767.5 C744.6 766.3 748.7 765.1 752.8 763.8 C756.8 762.5 760.9 761.3 764.9 759.8 C768.9 758.3 773.0 756.5 777.0 754.8 C781.0 753.1 785.1 751.5 789.1 749.8 C793.1 748.1 797.2 746.3 801.2 744.8 C805.3 743.2 809.4 741.8 813.4 740.5 C817.4 739.2 821.5 738.3 825.5 737.3 C829.5 736.3 833.6 735.2 837.6 734.5 C841.6 733.8 845.7 733.3 849.8 733.2 C853.8 733.1 857.9 733.4 861.9 733.7 C865.9 734.1 870.0 734.6 874.0 735.3 C878.0 736.0 882.1 736.9 886.1 737.8 C890.1 738.7 894.2 739.5 898.2 740.5 C902.3 741.5 906.4 742.5 910.4 743.5 C914.4 744.5 918.5 745.3 922.5 746.3 C926.5 747.3 930.6 748.3 934.6 749.3 C938.6 750.2 942.7 751.2 946.8 752.0 C950.8 752.8 954.9 753.4 958.9 754.0 C962.9 754.6 967.0 755.1 971.0 755.6 C975.0 756.1 979.1 756.5 983.1 757.0 C987.1 757.5 991.2 758.0 995.2 758.3 C999.3 758.6 1003.4 758.9 1007.4 759.0 C1011.4 759.1 1015.5 759.0 1019.5 759.0 C1023.5 759.0 1027.6 758.8 1031.6 758.8 C1035.6 758.8 1039.7 759.0 1043.8 759.0 C1047.8 759.0 1051.9 758.9 1055.9 758.6 C1059.9 758.3 1064.0 757.5 1068.0 757.0 C1072.0 756.5 1076.1 756.3 1080.1 755.6 C1084.1 754.9 1088.2 753.9 1092.2 753.0 C1096.3 752.1 1100.4 751.2 1104.4 750.4 C1108.4 749.6 1112.5 749.3 1116.5 748.2 C1120.5 747.1 1124.6 745.3 1128.6 744.0 C1132.6 742.7 1138.7 741.1 1140.8 740.5" fill="none" stroke="#e8964a" stroke-width="1.5" stroke-linejoin="round"/>
<path d="M12.0 724.7 C17.5 724.8 32.6 723.6 45.0 725.5 C57.4 727.4 77.5 734.4 86.3 736.0 C95.1 737.6 92.0 734.8 98.0 735.0 C104.0 735.2 115.9 737.4 122.0 737.3 C128.1 737.2 130.6 735.8 134.7 734.2 C138.8 732.7 142.7 729.5 146.7 728.0 C150.7 726.5 154.5 726.0 158.5 725.5 C162.5 725.0 162.2 725.2 170.5 725.0 C178.8 724.8 199.2 723.8 208.0 724.5 C216.8 725.2 217.1 725.9 223.0 729.2 C228.9 732.5 235.8 739.3 243.3 744.3 C250.8 749.3 259.9 753.8 268.0 759.3 C276.1 764.8 282.1 772.7 292.2 777.4 C302.3 782.1 318.6 785.3 328.6 787.4 C338.6 789.5 345.5 789.7 352.4 790.0 C359.3 790.3 363.9 789.5 370.0 789.4 C376.1 789.3 383.8 791.8 389.0 789.4 C394.2 787.0 397.0 778.4 401.0 775.1 C405.0 771.8 408.9 771.1 413.0 769.4 C417.1 767.7 421.3 765.6 425.4 764.8 C429.5 764.0 433.5 764.3 437.5 764.6 C441.5 764.9 445.6 764.8 449.6 766.6 C453.6 768.4 457.7 772.4 461.8 775.6 C465.8 778.8 469.9 782.7 473.9 785.7 C477.9 788.7 482.0 792.0 486.0 793.7 C490.0 795.4 494.1 795.8 498.1 796.0 C502.1 796.2 506.2 795.0 510.2 795.0 C514.3 795.0 518.4 796.2 522.4 796.0 C526.4 795.8 530.5 795.0 534.5 794.0 C538.5 793.0 542.6 791.6 546.6 790.2 C550.6 788.8 554.7 787.1 558.8 785.7 C562.8 784.3 566.9 782.7 570.9 781.7 C574.9 780.7 579.0 780.1 583.0 779.7 C587.0 779.3 591.1 779.3 595.1 779.4 C599.1 779.5 603.2 779.7 607.2 780.2 C611.3 780.8 615.4 782.3 619.4 782.7 C623.4 783.1 627.5 783.2 631.5 782.7 C635.5 782.2 639.6 780.5 643.6 779.9 C647.6 779.3 651.7 779.2 655.8 779.1 C659.8 779.0 663.9 779.5 667.9 779.4 C671.9 779.3 676.0 779.6 680.0 778.6 C684.0 777.6 688.1 776.3 692.1 773.6 C696.1 770.9 700.2 764.9 704.2 762.6 C708.3 760.3 712.4 761.2 716.4 759.6 C720.4 758.0 724.5 755.0 728.5 753.1 C732.5 751.2 736.6 750.0 740.6 748.5 C744.6 747.0 748.7 746.0 752.8 744.3 C756.8 742.5 760.9 740.0 764.9 738.0 C768.9 736.0 773.0 733.9 777.0 732.5 C781.0 731.1 785.1 730.3 789.1 729.7 C793.1 729.1 797.2 729.0 801.2 728.7 C805.3 728.5 809.4 728.3 813.4 728.2 C817.4 728.1 821.5 727.5 825.5 728.2 C829.5 728.9 833.6 730.2 837.6 732.2 C841.6 734.2 845.7 738.0 849.8 740.5 C853.8 743.0 857.9 745.5 861.9 747.3 C865.9 749.1 870.0 750.3 874.0 751.3 C878.0 752.2 882.1 752.4 886.1 753.0 C890.1 753.6 894.2 754.2 898.2 754.8 C902.3 755.4 906.4 756.7 910.4 756.8 C914.4 756.9 918.5 755.8 922.5 755.6 C926.5 755.4 930.6 755.4 934.6 755.6 C938.6 755.8 942.7 756.7 946.8 757.0 C950.8 757.3 954.9 757.0 958.9 757.3 C962.9 757.6 967.0 757.9 971.0 758.8 C975.0 759.7 979.1 761.7 983.1 762.6 C987.1 763.5 991.2 764.6 995.2 764.3 C999.3 764.0 1003.4 761.5 1007.4 760.6 C1011.4 759.7 1015.5 759.1 1019.5 758.8 C1023.5 758.5 1027.6 759.3 1031.6 758.8 C1035.6 758.3 1039.7 756.6 1043.8 755.6 C1047.8 754.6 1051.9 754.6 1055.9 753.0 C1059.9 751.4 1064.0 747.8 1068.0 746.0 C1072.0 744.2 1076.1 743.1 1080.1 742.3 C1084.1 741.5 1088.2 741.9 1092.2 741.3 C1096.3 740.7 1100.4 740.4 1104.4 738.5 C1108.4 736.6 1112.5 731.7 1116.5 729.7 C1120.5 727.7 1124.6 727.1 1128.6 726.3 C1132.6 725.5 1138.7 725.1 1140.8 724.9" fill="none" stroke="#3fa2d8" stroke-width="1.5" stroke-linejoin="round"/>
<line x1="12" y1="591.4" x2="1524" y2="591.4" stroke="#838383" stroke-width="1.1"/>
<line x1="12" y1="708.4" x2="1524" y2="708.4" stroke="#838383" stroke-width="1.1"/>
<line x1="12" y1="802.4" x2="1524" y2="802.4" stroke="#838383" stroke-width="1.1"/>
<line x1="1456.2" y1="33" x2="1456.2" y2="835" stroke="#8c8c8c" stroke-width="1.7"/>
<text x="1467" y="70.2" font-size="13" fill="#333" font-weight="normal" textLength="45.2" lengthAdjust="spacingAndGlyphs" stroke="#333" stroke-width="0.35">60000.0</text>
<text x="1467" y="113.6" font-size="13" fill="#333" font-weight="normal" textLength="45.2" lengthAdjust="spacingAndGlyphs" stroke="#333" stroke-width="0.35">59600.0</text>
<text x="1467" y="156.2" font-size="13" fill="#333" font-weight="normal" textLength="45.2" lengthAdjust="spacingAndGlyphs" stroke="#333" stroke-width="0.35">59200.0</text>
<text x="1467" y="198.8" font-size="13" fill="#333" font-weight="normal" textLength="45.2" lengthAdjust="spacingAndGlyphs" stroke="#333" stroke-width="0.35">58800.0</text>
<text x="1467" y="241.8" font-size="13" fill="#333" font-weight="normal" textLength="45.2" lengthAdjust="spacingAndGlyphs" stroke="#333" stroke-width="0.35">58400.0</text>
<text x="1467" y="284.8" font-size="13" fill="#333" font-weight="normal" textLength="45.2" lengthAdjust="spacingAndGlyphs" stroke="#333" stroke-width="0.35">58000.0</text>
<text x="1467" y="370.4" font-size="13" fill="#333" font-weight="normal" textLength="45.2" lengthAdjust="spacingAndGlyphs" stroke="#333" stroke-width="0.35">57200.0</text>
<text x="1467" y="413.0" font-size="13" fill="#333" font-weight="normal" textLength="45.2" lengthAdjust="spacingAndGlyphs" stroke="#333" stroke-width="0.35">56800.0</text>
<text x="1467" y="455.5" font-size="13" fill="#333" font-weight="normal" textLength="45.2" lengthAdjust="spacingAndGlyphs" stroke="#333" stroke-width="0.35">56400.0</text>
<text x="1467" y="498.0" font-size="13" fill="#333" font-weight="normal" textLength="45.2" lengthAdjust="spacingAndGlyphs" stroke="#333" stroke-width="0.35">56000.0</text>
<text x="1467" y="541.2" font-size="13" fill="#333" font-weight="normal" textLength="45.2" lengthAdjust="spacingAndGlyphs" stroke="#333" stroke-width="0.35">55600.0</text>
<text x="1467" y="584.1" font-size="13" fill="#333" font-weight="normal" textLength="45.2" lengthAdjust="spacingAndGlyphs" stroke="#333" stroke-width="0.35">55200.0</text>
<text x="1467" y="627.4" font-size="13" fill="#333" font-weight="normal" textLength="31.4" lengthAdjust="spacingAndGlyphs" stroke="#333" stroke-width="0.35">60.00</text>
<text x="1467" y="676.8" font-size="13" fill="#333" font-weight="normal" textLength="31.4" lengthAdjust="spacingAndGlyphs" stroke="#333" stroke-width="0.35">40.00</text>
<text x="1467" y="749.4" font-size="13" fill="#333" font-weight="normal" textLength="18.5" lengthAdjust="spacingAndGlyphs" stroke="#333" stroke-width="0.35">0.0</text>
<text x="1467" y="788.0" font-size="13" fill="#333" font-weight="normal" textLength="39" lengthAdjust="spacingAndGlyphs" stroke="#333" stroke-width="0.35">−400.0</text>
<rect x="1475" y="40" width="30.5" height="19.5" rx="3.5" fill="#fff" stroke="#e2e2e6" stroke-width="1"/>
<text x="1479.3" y="54.3" font-size="12.2" fill="#333" textLength="22.5" lengthAdjust="spacingAndGlyphs" stroke="#333" stroke-width="0.35">USD</text>
<path d="M1456.5 66.4 H1517 q2.4 0 2.4 2.4 V81.19999999999999 q0 2.4 -2.4 2.4 H1456.5 Z" fill="#f30b0f"/>
<text x="1467.3" y="79.7" font-size="13" fill="#fff" font-weight="bold" textLength="45.2" lengthAdjust="spacingAndGlyphs">59916.1</text>
<path d="M1456.5 280.8 H1517 q2.4 0 2.4 2.4 V296.20000000000005 q0 2.4 -2.4 2.4 H1456.5 Z" fill="#f30b0f"/>
<text x="1467.3" y="294.6" font-size="13" fill="#fff" font-weight="bold" textLength="45.2" lengthAdjust="spacingAndGlyphs">57848.1</text>
<path d="M1456.5 299.2 H1517 q2.4 0 2.4 2.4 V314.20000000000005 q0 2.4 -2.4 2.4 H1456.5 Z" fill="#f30b0f"/>
<text x="1467.3" y="312.6" font-size="13" fill="#fff" font-weight="bold" textLength="45.2" lengthAdjust="spacingAndGlyphs">57597.0</text>
<path d="M1456.5 318.3 H1517 q2.4 0 2.4 2.4 V347.6 q0 2.4 -2.4 2.4 H1456.5 Z" fill="#f30b0f"/>
<text x="1467.3" y="331.6" font-size="13" fill="#fff" font-weight="bold" textLength="45.2" lengthAdjust="spacingAndGlyphs">57568.1</text>
<text x="1467.3" y="346.6" font-size="13" fill="#fff" font-weight="normal" textLength="31.5" lengthAdjust="spacingAndGlyphs" stroke="#fff" stroke-width="0.35">22:15</text>
<path d="M1456.5 521.2 H1517 q2.4 0 2.4 2.4 V536.0 q0 2.4 -2.4 2.4 H1456.5 Z" fill="#4caf50"/>
<text x="1467.3" y="534.6" font-size="13" fill="#fff" font-weight="bold" textLength="45.2" lengthAdjust="spacingAndGlyphs">55663.5</text>
<text x="1378.3" y="252.6" font-size="13" fill="#8a8a8a" textLength="67.5" lengthAdjust="spacingAndGlyphs" stroke="#8a8a8a" stroke-width="0.35">0(58222.0)</text>
<text x="1350.8" y="311.3" font-size="13" fill="#b06a68" textLength="95" lengthAdjust="spacingAndGlyphs" stroke="#b06a68" stroke-width="0.35">0.236(57676.1)</text>
<text x="1365.3" y="376.3" font-size="13" fill="#5a4250" textLength="80.5" lengthAdjust="spacingAndGlyphs" stroke="#5a4250" stroke-width="0.35">0.5(57065.5)</text>
<text x="1350.8" y="405.4" font-size="13" fill="#58c9a4" textLength="95" lengthAdjust="spacingAndGlyphs" stroke="#58c9a4" stroke-width="0.35">0.618(56792.6)</text>
<text x="1350.8" y="441.8" font-size="13" fill="#c2333c" textLength="95" lengthAdjust="spacingAndGlyphs" stroke="#c2333c" stroke-width="0.35">0.764(56454.9)</text>
<text x="1379.3" y="500.1" font-size="13" fill="#74add6" textLength="66.5" lengthAdjust="spacingAndGlyphs" stroke="#74add6" stroke-width="0.35">1(55909.0)</text>
<text x="1350.8" y="558.4" font-size="13" fill="#a45cc4" textLength="95" lengthAdjust="spacingAndGlyphs" stroke="#a45cc4" stroke-width="0.35">1.236(55363.1)</text>
<text x="98" y="822.6" font-size="12.6" fill="#333" font-weight="normal" text-anchor="middle" textLength="32" lengthAdjust="spacingAndGlyphs" stroke="#333" stroke-width="0.35">12:00</text>
<text x="243.7" y="822.6" font-size="12.6" fill="#333" font-weight="bold" text-anchor="middle" textLength="14" lengthAdjust="spacingAndGlyphs">22</text>
<text x="389.5" y="822.6" font-size="12.6" fill="#333" font-weight="normal" text-anchor="middle" textLength="32" lengthAdjust="spacingAndGlyphs" stroke="#333" stroke-width="0.35">12:00</text>
<text x="535" y="822.6" font-size="12.6" fill="#333" font-weight="bold" text-anchor="middle" textLength="14" lengthAdjust="spacingAndGlyphs">23</text>
<text x="680.5" y="822.6" font-size="12.6" fill="#333" font-weight="normal" text-anchor="middle" textLength="32" lengthAdjust="spacingAndGlyphs" stroke="#333" stroke-width="0.35">12:00</text>
<text x="826" y="822.6" font-size="12.6" fill="#333" font-weight="bold" text-anchor="middle" textLength="14" lengthAdjust="spacingAndGlyphs">24</text>
<text x="971.5" y="822.6" font-size="12.6" fill="#333" font-weight="normal" text-anchor="middle" textLength="32" lengthAdjust="spacingAndGlyphs" stroke="#333" stroke-width="0.35">12:00</text>
<text x="1117" y="822.6" font-size="12.6" fill="#333" font-weight="bold" text-anchor="middle" textLength="14" lengthAdjust="spacingAndGlyphs">25</text>
<text x="1262.5" y="822.6" font-size="12.6" fill="#333" font-weight="normal" text-anchor="middle" textLength="32" lengthAdjust="spacingAndGlyphs" stroke="#333" stroke-width="0.35">12:00</text>
<text x="1408.5" y="822.6" font-size="12.6" fill="#333" font-weight="normal" text-anchor="middle" textLength="14" lengthAdjust="spacingAndGlyphs" stroke="#333" stroke-width="0.35">26</text>
<g id="wm">
<polygon points="76.9,81.1 83.2,81.1 93.5,48.9 104.9,84.6 108.4,81.1 117.1,81.1 117.1,86.6 112.6,86.6 103.3,103.8 92.9,71.8 88.9,86.6 76.9,86.6" fill="#c9202c"/>
<line x1="117.4" y1="81" x2="117.4" y2="125.4" stroke="#d4515a" stroke-width="1.2"/>
<path d="M132 65.6 V75.5 Q132 83.8 118.2 83.8" fill="none" stroke="#9d9d9d" stroke-width="5.8"/>
<rect x="137.6" y="57.2" width="5.9" height="26.2" fill="#c9202c"/>
<path d="M155.6 66.5 V75.8 Q155.6 84.3 141.5 84.3" fill="none" stroke="#9d9d9d" stroke-width="5.8"/>
<rect x="153.3" y="57.2" width="5.4" height="4.2" fill="#9d9d9d"/>
<path d="M164.3 57.2 V80.8 H176.2 V76.5" fill="none" stroke="#c9202c" stroke-width="5.8" stroke-linejoin="miter"/>
<rect x="173.9" y="88.1" width="5.9" height="5.9" fill="#c9202c"/>
<path d="M159.2 85.3 V92 Q159.2 98.2 166 98.2 H180.2 Q186.8 98.2 186.8 92 V72.4" fill="none" stroke="#9d9d9d" stroke-width="5.8"/>
<path d="M184 83.3 H221 Q230.2 81.5 228.6 73.2 Q226.2 64.2 217 65.8 Q210.5 67.5 204.2 77.4" fill="none" stroke="#9d9d9d" stroke-width="5.8" stroke-linejoin="round"/>
<polygon points="224.5,86.6 231,81.7 238.5,81.7 243.8,86.6" fill="#c9202c"/>
<path d="M243.5 72 V78 Q243.5 83.4 250 83.4 H256.5" fill="none" stroke="#9d9d9d" stroke-width="5.8"/>
<rect x="253.8" y="88.1" width="5.9" height="5.9" fill="#9d9d9d"/>
<path d="M257.3 72 V78 Q257.3 83.6 264 83.6 H272" fill="none" stroke="#c9202c" stroke-width="5.8"/>
<rect x="266.4" y="72" width="5.6" height="8.6" fill="#9d9d9d"/>
<path d="M152 112 V118.5 H146 M149 121.5 h0.1 M146 118.5 L143.5 112.5 L140 110 M143.5 112.5 L139.5 118.5 H133.5 V116 M136 121.5 h1.6 M133.5 118.5 Q133 123 129 123.5 M128 116 V118.5 H124 M126 121.5 h1.6 M124 118.5 Q123.5 114 121 114.5 Q119.5 118.5 124 118.5" fill="none" stroke="#9c9c9c" stroke-width="1.9" stroke-linecap="round" stroke-linejoin="round"/>
<path d="M181 113 Q183 118.5 177 118.5 M174.5 118.5 V116 M174.5 118.5 H171.5 V116 M171.5 118.5 H168.5 V116 M168.5 118.5 H159.5 Q158 118.5 158.5 115.5 M163 113 h1.8" fill="none" stroke="#9c9c9c" stroke-width="1.9" stroke-linecap="round" stroke-linejoin="round"/>
<path d="M197 116 V118.5 H191.5 Q188 118.5 188 116 Q188.5 113.5 191 115 Q192 117 191.5 118.5 M194 121.5 h0.1" fill="none" stroke="#9c9c9c" stroke-width="1.9" stroke-linecap="round" stroke-linejoin="round"/>
<path d="M209.5 109.5 V118.5 M205 114.5 Q205.5 121 201 122.5" fill="none" stroke="#9c9c9c" stroke-width="1.9" stroke-linecap="round" stroke-linejoin="round"/>
<path d="M239.5 115.5 V118.5 H234 V109.5 M237 121.5 h0.1 M230 114.5 Q230.5 121 226 122.5 M229.5 111.5 h0.1 M223 109.5 V118.5 M219 114.5 Q219.5 121 214.5 122.5" fill="none" stroke="#9c9c9c" stroke-width="1.9" stroke-linecap="round" stroke-linejoin="round"/>
<path d="M271.5 115 V118.5 H267.5 V116 M269.5 112.5 h0.1 M267.5 118.5 H257.5 Q262 112 265 114.5 Q266.5 117 262.5 118.5 M261 110.5 h0.1 M267 121.5 h0.1 M257.5 118.5 Q250 119.5 250.5 115 Q249 124 246 121 Q245 119 246.5 116.5" fill="none" stroke="#9c9c9c" stroke-width="1.9" stroke-linecap="round" stroke-linejoin="round"/>
</g>
<g fill="#1e222d">
<path d="M12.3 850 H21.6 V860.7 H16.9 V854.6 H12.3 Z"/>
<circle cx="24.6" cy="852.5" r="2.5"/>
<path d="M29.6 850 H34.6 L30.0 860.7 H25.0 Z"/>
</g>
<text x="40" y="861.7" font-size="15" fill="#30333d" textLength="82.5" lengthAdjust="spacingAndGlyphs" stroke="#30333d" stroke-width="0.35">TradingView</text>
<circle cx="92.7" cy="867.4" r="1.4" fill="#111"/>
<rect x="882" y="775.4" width="654" height="101.6" fill="url(#ban)"/>
<text x="962" y="845.6" font-size="44.5" textLength="379" lengthAdjust="spacingAndGlyphs"><tspan fill="#c9202b" stroke="#c9202b" stroke-width="0.35">nabze</tspan><tspan fill="#dedede" stroke="#dedede" stroke-width="0.35">baazaar.com</tspan></text>
</svg></body></html>
